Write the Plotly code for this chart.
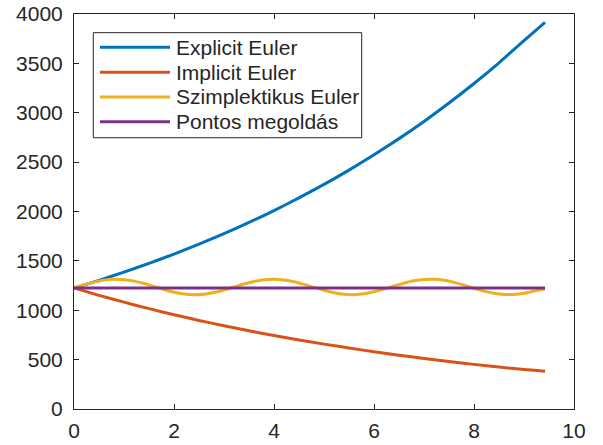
import plotly.graph_objects as go

# Energy of the oscillator over time for three integrators and the exact solution
t_euler = [0.0, 0.5, 1.0, 1.5, 2.0, 2.5, 3.0, 3.5, 4.0, 4.5, 5.0, 5.5, 6.0, 6.5,
           7.0, 7.5, 8.0, 8.5, 9.0, 9.42]
e_explicit = [1225, 1303, 1386, 1475, 1569, 1669, 1776, 1889, 2009, 2138, 2274,
              2419, 2574, 2738, 2912, 3098, 3296, 3506, 3730, 3916]
e_implicit = [1225, 1151, 1082, 1016, 955, 897, 843, 792, 744, 699, 657, 618,
              580, 545, 512, 481, 452, 425, 399, 382]

t_symp = [0.0, 0.2, 0.4, 0.6, 0.8, 1.0, 1.2, 1.4, 1.6, 1.8, 2.0, 2.2, 2.4, 2.6,
          2.8, 3.0, 3.2, 3.4, 3.6, 3.8, 4.0, 4.2, 4.4, 4.6, 4.8, 5.0, 5.2, 5.4,
          5.6, 5.8, 6.0, 6.2, 6.4, 6.6, 6.8, 7.0, 7.2, 7.4, 7.6, 7.8, 8.0, 8.2,
          8.4, 8.6, 8.8, 9.0, 9.2, 9.42]
e_symp = [1225, 1258, 1285, 1305, 1314, 1310, 1295, 1271, 1241, 1210, 1183, 1165,
          1158, 1163, 1180, 1205, 1236, 1266, 1292, 1309, 1314, 1307, 1289, 1262,
          1232, 1202, 1177, 1162, 1158, 1167, 1187, 1214, 1245, 1274, 1298, 1311,
          1313, 1303, 1282, 1254, 1223, 1194, 1172, 1160, 1160, 1172, 1194, 1214]

t_exact = [0.0, 9.42]
e_exact = [1225, 1225]

names = ["Explicit Euler", "Implicit Euler", "Szimplektikus Euler", "Pontos megoldás"]
colors = ["#0072BD", "#D95319", "#EDB120", "#7E2F8E"]
series = [(t_euler, e_explicit), (t_euler, e_implicit), (t_symp, e_symp), (t_exact, e_exact)]

FONT = "Liberation Sans, Arial, sans-serif"
AXC = "#262626"

fig = go.Figure()
for (x, y), name, c in zip(series, names, colors):
    fig.add_trace(go.Scatter(x=x, y=y, mode="lines", name=name,
                             line=dict(color=c, width=3, shape="spline", smoothing=0.6),
                             showlegend=False))

# Legend box drawn by hand (long line samples)
shapes = [dict(type="rect", xref="paper", yref="paper", x0=0.0386, x1=0.5754,
               y0=0.6868, y1=0.9527, line=dict(color=AXC, width=1),
               fillcolor="white", layer="above")]
annotations = []
rows = [0.9157, 0.8524, 0.7899, 0.7273]
for name, c, ry in zip(names, colors, rows):
    shapes.append(dict(type="line", xref="paper", yref="paper", x0=0.052, x1=0.192,
                       y0=ry, y1=ry, line=dict(color=c, width=3), layer="above"))
    annotations.append(dict(xref="paper", yref="paper", x=0.199, y=ry, text=name,
                            showarrow=False, xanchor="left", yanchor="middle",
                            font=dict(family=FONT, size=21, color=AXC)))

axis_common = dict(showgrid=False, zeroline=False, showline=True, mirror="ticks",
                   linecolor=AXC, linewidth=1, ticks="inside", ticklen=5,
                   tickcolor=AXC, tickfont=dict(family=FONT, size=21, color=AXC),
                   automargin=False)

fig.update_layout(
    width=603, height=445,
    margin=dict(l=74, r=29, t=14, b=36, autoexpand=False),
    paper_bgcolor="white", plot_bgcolor="white",
    xaxis=dict(range=[0, 10], tickvals=[0, 2, 4, 6, 8, 10], ticklabelstandoff=3,
               **axis_common),
    yaxis=dict(range=[0, 4000], tickvals=[0, 500, 1000, 1500, 2000, 2500, 3000, 3500, 4000],
               ticklabelstandoff=6, **axis_common),
    shapes=shapes, annotations=annotations,
)

fig.write_html("out.html")
